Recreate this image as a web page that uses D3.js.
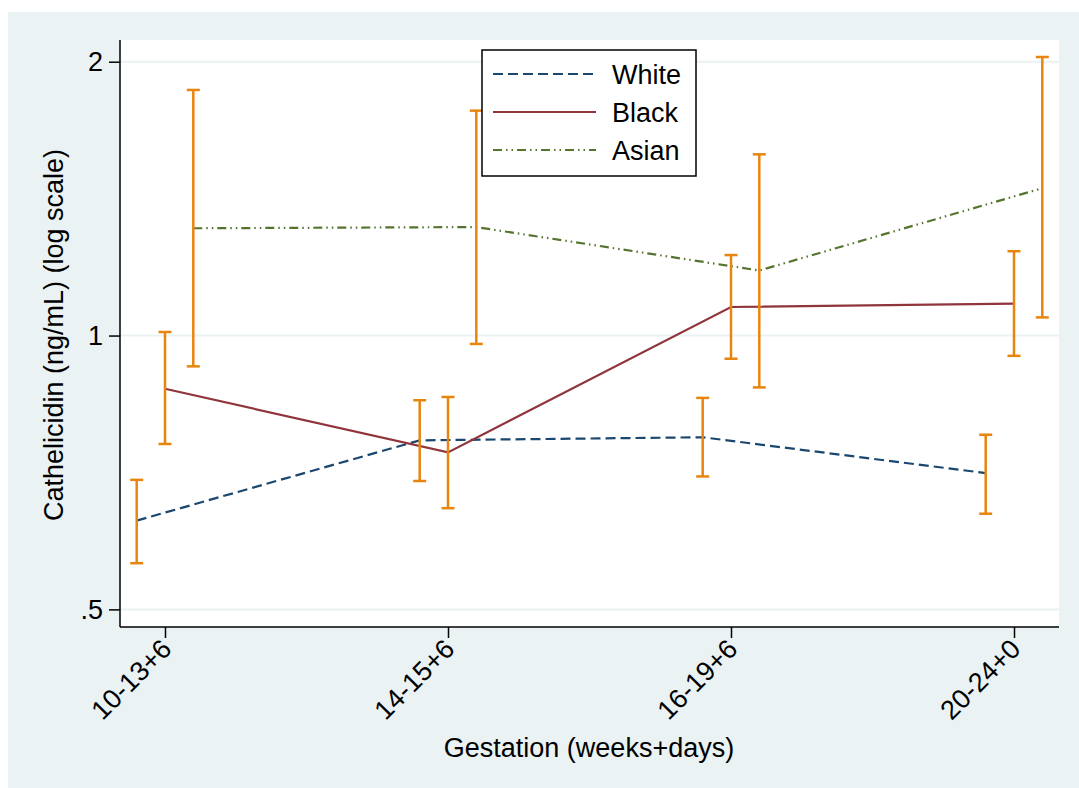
<!DOCTYPE html>
<html>
<head>
<meta charset="utf-8">
<script src="https://cdn.jsdelivr.net/npm/d3@7"></script>
<style>
  body { margin: 0; background: #fff; }
  text { font-family: "Liberation Sans", Arial, sans-serif; fill: #000; }
</style>
</head>
<body>
<div id="chart"></div>
<script>
// categories along x
const periods = ["10-13+6", "14-15+6", "16-19+6", "20-24+0"];
const groups = ["White", "Black", "Asian"];

// geometric means and 95% CI (ng/mL)
const whiteMean = [0.626, 0.767, 0.773, 0.706];
const whiteLo   = [0.562, 0.692, 0.700, 0.637];
const whiteHi   = [0.694, 0.849, 0.854, 0.778];

const blackMean = [0.874, 0.744, 1.075, 1.084];
const blackLo   = [0.760, 0.646, 0.943, 0.950];
const blackHi   = [1.009, 0.856, 1.226, 1.238];

const asianMean = [1.312, 1.316, 1.179, 1.452];
const asianLo   = [0.925, 0.979, 0.877, 1.047];
const asianHi   = [1.862, 1.767, 1.582, 2.024];

const yTickValues = [0.5, 1, 2];
const yTickLabels = [".5", "1", "2"];

const W = 1079, H = 788;
const margin = { top: 40, right: 20, bottom: 161, left: 120 };
const width = W - margin.left - margin.right;   // 939
const height = H - margin.top - margin.bottom;  // 587
const fontSize = "27px";

const svg = d3.select("#chart").append("svg")
    .attr("width", W)
    .attr("height", H);

// outer (graph region) background
svg.append("rect")
    .attr("x", 8).attr("y", 12)
    .attr("width", W - 8).attr("height", H - 12)
    .attr("fill", "#eaf2f3");

const g = svg.append("g")
    .attr("transform", "translate(" + margin.left + "," + margin.top + ")");

// plot region
g.append("rect")
    .attr("width", width).attr("height", height)
    .attr("fill", "#fff");

const x = d3.scaleLinear()
    .domain([0.841, 4.159])
    .range([0, width]);

const y = d3.scaleLog()
    .base(2)
    .domain([0.4782, 2.113])
    .range([height, 0]);

// horizontal grid
g.selectAll(".grid")
    .data(yTickValues)
    .enter()
    .append("line")
    .attr("x1", 0).attr("x2", width)
    .attr("y1", d => y(d)).attr("y2", d => y(d))
    .attr("stroke", "#eaf2f3")
    .attr("stroke-width", 2);

// series table built from the arrays
const series = [
    { name: "White", mean: whiteMean, lo: whiteLo, hi: whiteHi, offset: -0.1, color: "#1a476f", dash: "10,5" },
    { name: "Black", mean: blackMean, lo: blackLo, hi: blackHi, offset: 0, color: "#90353b", dash: null },
    { name: "Asian", mean: asianMean, lo: asianLo, hi: asianHi, offset: 0.1, color: "#55752f", dash: "9,4,1.5,4,1.5,4" }
];

const line = d3.line()
    .x(d => d.x)
    .y(d => y(d.v));

series.forEach(s => {
    const pts = s.mean.map((v, i) => ({ x: x(i + 1 + s.offset), v: v }));
    g.append("path")
        .datum(pts)
        .attr("d", line)
        .attr("fill", "none")
        .attr("stroke", s.color)
        .attr("stroke-width", 2.2)
        .attr("stroke-dasharray", s.dash);
});

// error bars
const orange = "#e8850e";
const capHalf = 6.5;
series.forEach(s => {
    s.mean.forEach((v, i) => {
        const cx = x(i + 1 + s.offset);
        const eb = g.append("g");
        eb.append("line")
            .attr("x1", cx).attr("x2", cx)
            .attr("y1", y(s.lo[i])).attr("y2", y(s.hi[i]))
            .attr("stroke", orange).attr("stroke-width", 2.5);
        [s.lo[i], s.hi[i]].forEach(e => {
            eb.append("line")
                .attr("x1", cx - capHalf).attr("x2", cx + capHalf)
                .attr("y1", y(e)).attr("y2", y(e))
                .attr("stroke", orange).attr("stroke-width", 2.5);
        });
    });
});

// y axis
const yAxis = g.append("g")
    .call(d3.axisLeft(y)
        .tickValues(yTickValues)
        .tickFormat((d, i) => yTickLabels[i])
        .tickSize(11)
        .tickPadding(6));
yAxis.select(".domain").attr("d", "M0,0V" + height).attr("stroke", "#000").attr("stroke-width", 1.5);
yAxis.selectAll(".tick line").attr("stroke", "#000").attr("stroke-width", 1.5);
yAxis.selectAll(".tick text")
    .style("font-size", fontSize)
    .style("font-family", "Liberation Sans, Arial, sans-serif")
    .attr("fill", "#000");

// x axis
const xAxis = g.append("g")
    .attr("transform", "translate(0," + height + ")")
    .call(d3.axisBottom(x)
        .tickValues([1, 2, 3, 4])
        .tickFormat((d, i) => periods[i])
        .tickSize(11));
xAxis.select(".domain").attr("d", "M0,0H" + width).attr("stroke", "#000").attr("stroke-width", 1.5);
xAxis.selectAll(".tick line").attr("stroke", "#000").attr("stroke-width", 1.5);
xAxis.selectAll(".tick text")
    .style("font-size", fontSize)
    .style("font-family", "Liberation Sans, Arial, sans-serif")
    .attr("fill", "#000")
    .attr("text-anchor", "end")
    .attr("dy", "0.35em")
    .attr("transform", "translate(1,17) rotate(-45)")
    .attr("y", 0).attr("x", 0);

// axis titles
svg.append("text")
    .attr("x", 589)
    .attr("y", 757)
    .attr("text-anchor", "middle")
    .style("font-size", fontSize)
    .text("Gestation (weeks+days)");

svg.append("text")
    .attr("transform", "translate(63,335) rotate(-90)")
    .attr("text-anchor", "middle")
    .style("font-size", fontSize)
    .text("Cathelicidin (ng/mL) (log scale)");

// legend
const legend = svg.append("g")
    .attr("transform", "translate(482,50)");
legend.append("rect")
    .attr("width", 214).attr("height", 126)
    .attr("fill", "#fff")
    .attr("stroke", "#000")
    .attr("stroke-width", 1.5);
series.forEach((s, i) => {
    legend.append("line")
        .attr("x1", 11).attr("x2", 114)
        .attr("y1", 24 + i * 38).attr("y2", 24 + i * 38)
        .attr("stroke", s.color)
        .attr("stroke-width", 2.2)
        .attr("stroke-dasharray", s.dash);
    legend.append("text")
        .attr("x", 130)
        .attr("y", 24 + i * 38 + 10)
        .style("font-size", fontSize)
        .text(s.name);
});
</script>
</body>
</html>
